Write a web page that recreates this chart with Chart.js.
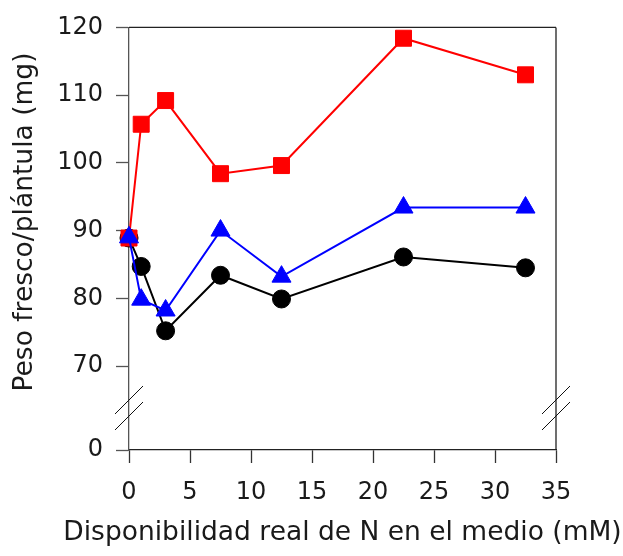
<!DOCTYPE html>
<html>
<head>
<meta charset="utf-8">
<script src="https://cdn.jsdelivr.net/npm/chart.js"></script>
<style>
  html, body { margin: 0; padding: 0; background: #fff; }
  #wrap { width: 623px; height: 556px; }
</style>
</head>
<body>
<div id="wrap"><canvas id="chart"></canvas></div>
<script>
// N disponible (mM) y peso fresco por plántula (mg) de las tres series
const nDisponible = [0, 1, 3, 7.5, 12.5, 22.5, 32.5];
const pesoCuadrados = [88.9, 105.7, 109.2, 98.4, 99.6, 118.4, 113.0];
const pesoTriangulos = [89.0, 79.8, 78.2, 90.0, 83.2, 93.4, 93.4];
const pesoCirculos = [88.9, 84.7, 75.2, 83.4, 79.9, 86.1, 84.5];

// eje Y cortado: el primer valor es la base del eje, rotulada como 0
const yTicks = [57.6, 70, 80, 90, 100, 110, 120];
const yTickLabels = ['0', '70', '80', '90', '100', '110', '120'];
const xTicks = [0, 5, 10, 15, 20, 25, 30, 35];

const tituloX = 'Disponibilidad real de N en el medio (mM)';
const tituloY = 'Peso fresco/plántula (mg)';

const FONT = "'DejaVu Sans', sans-serif";
const TEXT = '#1a1a1a';

function serie(data, color, style, radius) {
  return {
    data: nDisponible.map((x, i) => ({ x: x, y: data[i] })),
    borderColor: color,
    backgroundColor: color,
    borderWidth: 2,
    pointStyle: style,
    pointRadius: radius,
    pointHoverRadius: radius,
    pointBorderWidth: 1,
    pointBorderColor: color,
    pointBackgroundColor: color,
    tension: 0,
    clip: false
  };
}

// marco superior/derecho, marcas de corte y títulos de los ejes
// (los títulos se pintan aquí para que no se compriman al ancho del eje)
const marco = {
  id: 'marco',
  afterDraw(chart) {
    const { ctx, chartArea: a } = chart;
    const y = chart.scales.y;
    ctx.save();
    ctx.strokeStyle = '#222';
    ctx.lineWidth = 1.3;
    ctx.beginPath();
    ctx.moveTo(a.left, a.top);
    ctx.lineTo(a.right, a.top);
    ctx.moveTo(a.right, a.top);
    ctx.lineTo(a.right, a.bottom);
    ctx.stroke();

    const yc = (y.getPixelForValue(70) + a.bottom) / 2;
    ctx.lineWidth = 1;
    ctx.strokeStyle = '#111';
    [a.left, a.right].forEach(xc => {
      [-8, 8].forEach(d => {
        ctx.beginPath();
        ctx.moveTo(xc - 14, yc + d + 14);
        ctx.lineTo(xc + 14, yc + d - 14);
        ctx.stroke();
      });
    });

    ctx.fillStyle = TEXT;
    ctx.font = '26.5px ' + FONT;
    ctx.textAlign = 'center';
    ctx.textBaseline = 'middle';
    ctx.fillText(tituloX, (a.left + a.right) / 2, 533);

    ctx.translate(25, 222);
    ctx.rotate(-Math.PI / 2);
    ctx.fillText(tituloY, 0, 0);
    ctx.restore();
  }
};

new Chart(document.getElementById('chart'), {
  type: 'line',
  data: {
    datasets: [
      serie(pesoTriangulos, '#0000ff', 'triangle', 11),
      serie(pesoCuadrados, '#ff0000', 'rect', 11.3),
      serie(pesoCirculos, '#000000', 'circle', 9)
    ]
  },
  options: {
    responsive: true,
    maintainAspectRatio: false,
    animation: false,
    layout: { padding: { top: 17.6, right: 67, left: 0, bottom: 0 } },
    plugins: {
      legend: { display: false },
      tooltip: { enabled: false }
    },
    scales: {
      x: {
        type: 'linear',
        min: 0,
        max: 35,
        afterBuildTicks: s => { s.ticks = xTicks.map(v => ({ value: v })); },
        afterFit: s => { s.height = 106; },
        grid: { drawOnChartArea: false, tickLength: 13, tickColor: '#333', tickWidth: 1.3 },
        border: { display: true, color: '#222', width: 1.3 },
        ticks: { color: TEXT, font: { family: FONT, size: 24 }, padding: 15.6, maxRotation: 0 }
      },
      y: {
        type: 'linear',
        min: yTicks[0],
        max: 120,
        afterBuildTicks: s => { s.ticks = yTicks.map(v => ({ value: v })); },
        afterFit: s => { s.width = 129; },
        grid: { drawOnChartArea: false, tickLength: 13, tickColor: '#555', tickWidth: 1.3 },
        border: { display: true, color: '#555', width: 1.3 },
        ticks: {
          color: TEXT,
          font: { family: FONT, size: 24 },
          padding: 13,
          callback: (v, i) => yTickLabels[i]
        }
      }
    }
  },
  plugins: [marco]
});
</script>
</body>
</html>
